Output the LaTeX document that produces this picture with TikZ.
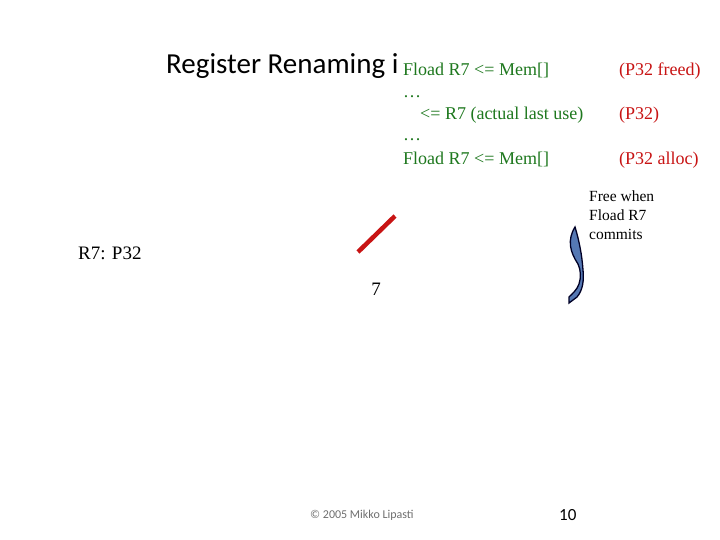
\documentclass[tikz,border=0pt]{standalone}
\usepackage{fontspec}
\setmainfont{Liberation Serif}
\newfontfamily\calfont{Carlito}
\definecolor{grn}{RGB}{30,120,30}
\definecolor{rd}{RGB}{200,20,20}
\definecolor{arrowblue}{RGB}{85,120,180}
\definecolor{copygray}{RGB}{110,110,110}
\tikzset{
  grntxt/.style={anchor=base west, inner sep=0pt, text=grn, font=\fontsize{18}{20}\selectfont},
  redtxt/.style={anchor=base west, inner sep=0pt, text=rd, font=\fontsize{18}{20}\selectfont},
  plain/.style={inner sep=0pt, font=\fontsize{19}{21}\selectfont}
}
\begin{document}
\begin{tikzpicture}[x=1pt,y=-1pt]
\useasboundingbox (0,0) rectangle (720,540);
% title (partly hidden behind the text box)
\node[anchor=base west, inner sep=0pt, font=\calfont\fontsize{29}{33}\selectfont] (title) at (166,74) {Register Renaming in};
\fill[white] (399,52) rectangle (712,175);
% code lines
\node[grntxt] (l1) at (403,76) {Fload R7 <= Mem[]};
\node[grntxt] (l2) at (403,98) {\dots};
\node[grntxt] (l3) at (420,120) {<= R7 (actual last use)};
\node[grntxt] (l4) at (403,141) {\dots};
\node[grntxt] (l5) at (403,165) {Fload R7 <= Mem[]};
\node[redtxt] (r1) at (619,76) {(P32 freed)};
\node[redtxt] (r3) at (619,120) {(P32)};
\node[redtxt] (r5) at (619,165) {(P32 alloc)};
% note
\node[anchor=north west, inner sep=0pt, align=left, font=\fontsize{15.5}{19}\selectfont] (note) at (589,191) {Free when\\Fload R7\\commits};
\node[plain, anchor=west] (map) at (78,253) {R7: P32};
\node[plain] (seven) at (376,289) {7};
% red slash
\draw[rd, line width=4.5pt] (358,252) -- (395,216);
% curved arrow
\filldraw[fill=arrowblue, draw=black!85!blue, line width=1.3pt]
  (575,227) .. controls (567,240) and (570,252) .. (578,264)
  .. controls (581,270) and (581,278) .. (579,284)
  .. controls (577,290) and (572,294) .. (569,297)
  -- (569,303) -- (577,297)
  .. controls (583,290) and (584,280) .. (583,270)
  .. controls (582,255) and (579,240) .. (575,227) -- cycle;
% footer
\node[anchor=west, inner sep=0pt, text=copygray, font=\calfont\fontsize{12}{14}\selectfont] (copy) at (310,515) {\textcopyright{} 2005 Mikko Lipasti};
\node[anchor=west, inner sep=0pt, font=\calfont\fontsize{17}{19}\selectfont] (page) at (559,515) {10};
\end{tikzpicture}
\end{document}
